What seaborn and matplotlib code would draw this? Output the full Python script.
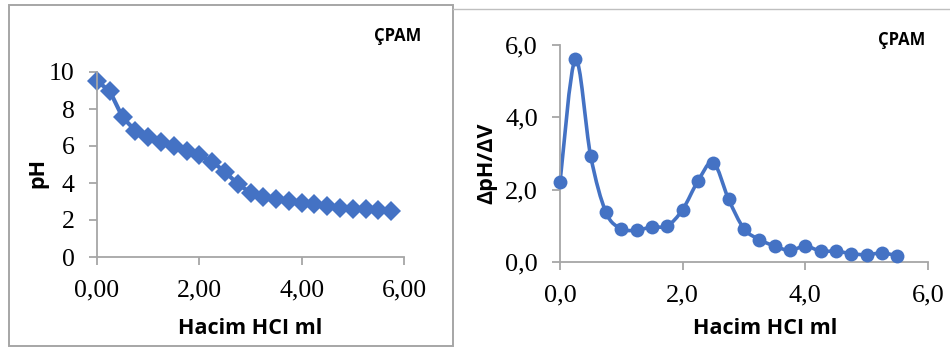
import matplotlib
matplotlib.use("Agg")
import matplotlib.pyplot as plt
from matplotlib.path import Path
from matplotlib.patches import PathPatch, Rectangle
from matplotlib.lines import Line2D
import numpy as np
import pandas as pd
import seaborn as sns

# Titration of ÇPAM with HCl: pH curve and its first derivative
volume_ph = [0.00, 0.25, 0.50, 0.75, 1.00, 1.25, 1.50, 1.75, 2.00, 2.25, 2.50, 2.75,
             3.00, 3.25, 3.50, 3.75, 4.00, 4.25, 4.50, 4.75, 5.00, 5.25, 5.50, 5.75]
ph_values = [9.51, 8.97, 7.55, 6.83, 6.50, 6.23, 6.02, 5.75, 5.51, 5.15, 4.61, 3.95,
             3.48, 3.26, 3.12, 3.03, 2.94, 2.85, 2.76, 2.67, 2.61, 2.58, 2.52, 2.47]

volume_deriv = [0.00, 0.25, 0.50, 0.75, 1.00, 1.25, 1.50, 1.75, 2.00, 2.25, 2.50, 2.75,
                3.00, 3.25, 3.50, 3.75, 4.00, 4.25, 4.50, 4.75, 5.00, 5.25, 5.50]
dph_dv = [2.20, 5.60, 2.93, 1.37, 0.92, 0.88, 0.97, 1.00, 1.45, 2.24, 2.75, 1.73,
          0.92, 0.62, 0.44, 0.32, 0.44, 0.30, 0.30, 0.23, 0.20, 0.25, 0.17]

ph_ticks = [0, 2, 4, 6, 8, 10]
ph_tick_labels = ["0", "2", "4", "6", "8", "10"]
x_ticks = [0, 2, 4, 6]
x_tick_labels_left = ["0,00", "2,00", "4,00", "6,00"]
x_tick_labels_right = ["0,0", "2,0", "4,0", "6,0"]
d_ticks = [0, 2, 4, 6]
d_tick_labels = ["0,0", "2,0", "4,0", "6,0"]

sample_name = "ÇPAM"
x_label = "Hacim HCI ml"
y_label_left = "pH"
y_label_right = "ΔpH/ΔV"

sns.set_theme(style="white")
plt.rcParams["font.family"] = ["DejaVu Sans"]

BLUE = "#4472C4"
GRAY = "#A6A6A6"
SERIF = "Liberation Serif"
SANS = "Open Sans"

fig = plt.figure(figsize=(9.5, 3.47), dpi=100)
W, H = 950, 347


def frac_box(x0, x1, ytop, ybot):
    return [x0 / W, 1 - ybot / H, (x1 - x0) / W, (ybot - ytop) / H]


def style_axes(ax, size):
    sns.despine(ax=ax)
    for side in ("left", "bottom"):
        ax.spines[side].set_color(GRAY)
        ax.spines[side].set_linewidth(1.3)
    ax.tick_params(axis="both", which="major", direction="out", length=5.5,
                   width=1.3, color=GRAY, pad=10.5, labelsize=size,
                   labelcolor="black", left=True, bottom=True)
    for lab in ax.get_xticklabels() + ax.get_yticklabels():
        lab.set_fontfamily(SERIF)
    ax.set_xlabel("")
    ax.set_ylabel("")
    ax.set_facecolor("white")


# ---- left panel: pH versus added HCl volume ----
ax1 = fig.add_axes(frac_box(97, 404, 72, 257))
df_ph = pd.DataFrame({"V": volume_ph, "pH": ph_values})
sns.lineplot(data=df_ph, x="V", y="pH", ax=ax1, color=BLUE, linewidth=3,
             marker="D", markersize=10.5, markeredgecolor=BLUE, markeredgewidth=0,
             clip_on=False)
ax1.set_xlim(0, 6)
ax1.set_ylim(0, 10)
ax1.set_xticks(x_ticks, x_tick_labels_left)
ax1.set_yticks(ph_ticks, ph_tick_labels)
style_axes(ax1, 18.5)

# ---- right panel: first derivative, smoothed line ----
ax2 = fig.add_axes(frac_box(560, 928, 45, 262))
df_d = pd.DataFrame({"V": volume_deriv, "d": dph_dv})

# Smooth curve through the points (Catmull-Rom as cubic Bezier segments)
pts = np.column_stack([volume_deriv, dph_dv])
verts = [tuple(pts[0])]
codes = [Path.MOVETO]
n = len(pts)
for i in range(n - 1):
    p0 = pts[i - 1] if i > 0 else pts[i]
    p1 = pts[i]
    p2 = pts[i + 1]
    p3 = pts[i + 2] if i + 2 < n else pts[i + 1]
    c1 = p1 + (p2 - p0) / 6.0
    c2 = p2 - (p3 - p1) / 6.0
    verts += [tuple(c1), tuple(c2), tuple(p2)]
    codes += [Path.CURVE4] * 3
ax2.add_patch(PathPatch(Path(verts, codes), facecolor="none", edgecolor=BLUE,
                        linewidth=2.6, zorder=2, clip_on=False))
sns.scatterplot(data=df_d, x="V", y="d", ax=ax2, color=BLUE, s=100,
                edgecolor=BLUE, linewidth=0, zorder=3, clip_on=False)
ax2.set_xlim(0, 6)
ax2.set_ylim(0, 6)
ax2.set_xticks(x_ticks, x_tick_labels_right)
ax2.set_yticks(d_ticks, d_tick_labels)
style_axes(ax2, 19)

# ---- labels ----
lab_kw = dict(fontfamily=SANS, fontweight="bold", color="black",
              ha="center", va="center")
fig.text(250 / W, 1 - 328 / H, x_label, fontsize=15.5, **lab_kw)
fig.text(765 / W, 1 - 328 / H, x_label, fontsize=15.5, **lab_kw)
fig.text(38 / W, 1 - 173 / H, y_label_left, fontsize=15.5, rotation=90, **lab_kw)
fig.text(487 / W, 1 - 163 / H, y_label_right, fontsize=15.5, rotation=90, **lab_kw)
fig.text(398 / W, 1 - 36 / H, sample_name, fontsize=12, **lab_kw)
fig.text(902 / W, 1 - 40 / H, sample_name, fontsize=12, **lab_kw)

# ---- panel frames ----
fig.add_artist(Rectangle((8.5 / W, 1 - 346 / H), (452.5 - 8.5) / W, (346 - 4.5) / H,
                         transform=fig.transFigure, facecolor="none",
                         edgecolor=GRAY, linewidth=1.4))
fig.add_artist(Line2D([453 / W, 1.0], [1 - 8.5 / H, 1 - 8.5 / H],
                      transform=fig.transFigure, color="#BFBFBF", linewidth=1.0))

fig.savefig("out.png", dpi=100, facecolor="white")
